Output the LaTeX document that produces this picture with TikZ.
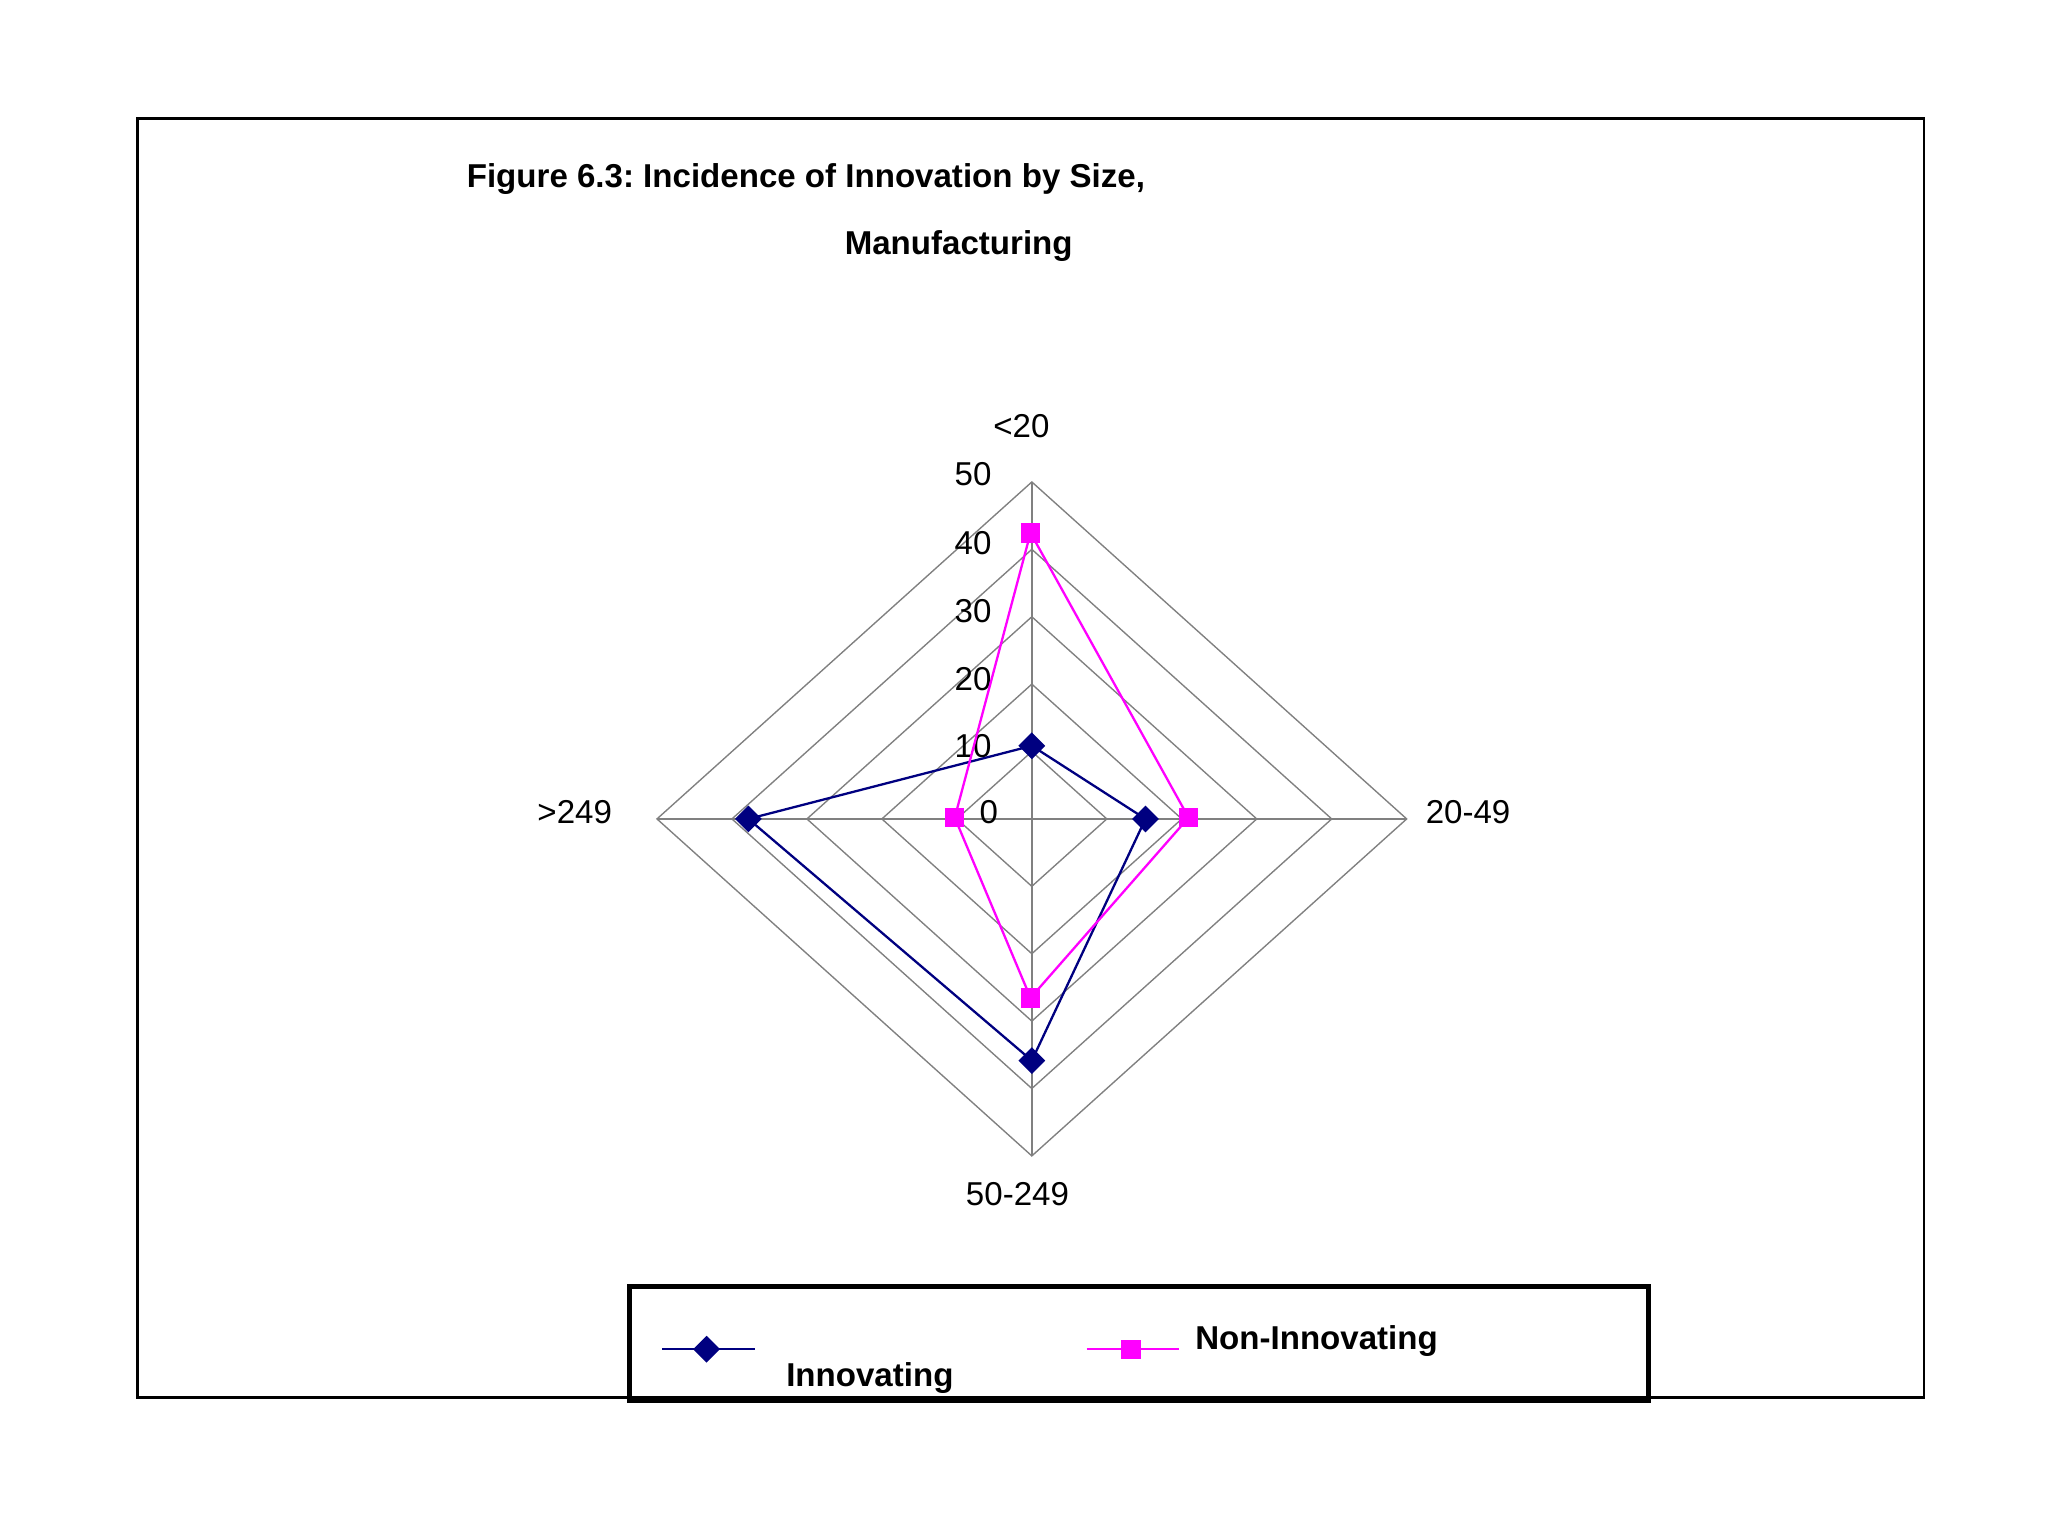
\documentclass[tikz,border=0pt]{standalone}
\usepackage{fontspec}
\setmainfont{Liberation Sans}
\usetikzlibrary{shapes.geometric}
\definecolor{mag}{RGB}{255,0,255}
\definecolor{navy}{RGB}{0,0,128}
\frenchspacing
\begin{document}
\begin{tikzpicture}[x=0.01cm,y=-0.01cm,
  lab/.style={font=\fontsize{7.2pt}{8pt}\selectfont,inner sep=0},
  ttl/.style={font=\bfseries\fontsize{7.2pt}{8pt}\selectfont,inner sep=0},
  grid/.style={draw=gray,line width=0.3pt},
  inn/.style={draw=navy,line width=0.5pt},
  non/.style={draw=mag,line width=0.5pt},
  dmk/.style={diamond,fill=navy,minimum size=6pt,inner sep=0},
  smk/.style={rectangle,fill=mag,minimum size=4.2pt,inner sep=0}]
\useasboundingbox (0,0) rectangle (1568,1176);
\draw[line width=0.6pt] (105,91) rectangle (1473,1070);
\node[ttl] (t1) at (617,137) {Figure 6.3: Incidence of Innovation by Size,};
\node[ttl] (t2) at (734,188) {Manufacturing};
\def\sx{5.74}\def\sy{5.16}
\coordinate (c) at (790,627);
\foreach \r in {10,20,30,40,50}{
  \draw[grid] (790,627-\r*\sy) -- (790+\r*\sx,627) -- (790,627+\r*\sy) -- (790-\r*\sx,627) -- cycle;}
\draw[grid] (790,369) -- (790,885);
\draw[grid] (503,627) -- (1077,627);
\foreach \v/\y in {50/363,40/416,30/468,20/520,10/571}{\node[lab] (s\v) at (745,\y) {\v};}
\node[lab] (s0) at (757,622) {0};
\node[lab] (a1) at (782,326) {<20};
\node[lab] (a2) at (1124,622) {20-49};
\node[lab] (a3) at (779,914) {50-249};
\node[lab] (a4) at (440,622) {>249};
% Innovating
\coordinate (i1) at (790,571); \coordinate (i2) at (877,627);
\coordinate (i3) at (790,812); \coordinate (i4) at (573,627);
\draw[inn] (i1)--(i2)--(i3)--(i4)--cycle;
\foreach \p in {i1,i2,i3,i4}{\node[dmk] at (\p) {};}
% Non-innovating
\coordinate (n1) at (789,408); \coordinate (n2) at (910,626);
\coordinate (n3) at (789,764); \coordinate (n4) at (731,626);
\draw[non] (n1)--(n2)--(n3)--(n4)--cycle;
\foreach \p in {n1,n2,n3,n4}{\node[smk] at (\p) {};}
% Legend
\draw[line width=1.2pt] (482,985) rectangle (1262,1072);
\coordinate (l1a) at (507,1033); \coordinate (l1b) at (578,1033);
\draw[inn] (l1a) -- (l1b); \node[dmk] (lm1) at (541,1033) {};
\node[ttl] (lt1) at (666,1055) {Innovating};
\coordinate (l2a) at (832,1033); \coordinate (l2b) at (903,1033);
\draw[non] (l2a) -- (l2b); \node[smk] (lm2) at (866,1033) {};
\node[ttl] (lt2) at (1008,1027) {Non-Innovating};
\end{tikzpicture}
\end{document}
